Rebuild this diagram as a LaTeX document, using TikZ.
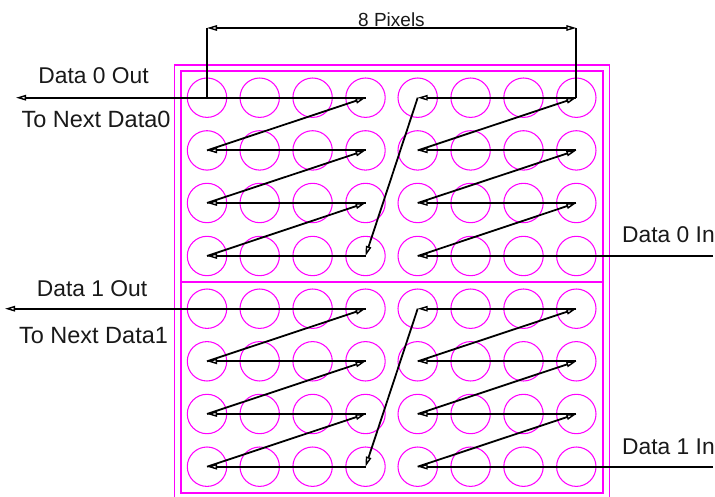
\documentclass[tikz,border=0pt]{standalone}
\usepackage{fontspec}
\setmainfont{Liberation Sans}
\usetikzlibrary{arrows.meta}
\definecolor{led}{RGB}{255,0,255}
\tikzset{
  x=1pt,y=-1pt,
  ledc/.style={circle,draw=led,line width=1.05pt,minimum size=39.4pt,inner sep=0pt,outer sep=0pt},
  frame/.style={draw=led,line width=1.1pt},
  wire/.style={draw=black,line width=1.8pt},
  flow/.style={wire,-{Triangle[open,length=10pt,width=5.5pt,line width=1.4pt]}},
  lbl/.style={font=\fontsize{22.8pt}{26pt}\selectfont,anchor=base,inner sep=0pt,text=black!90},
  lblwide/.style={lbl,font=\fontsize{23.5pt}{26pt}\selectfont}
}
\begin{document}
\begin{tikzpicture}
\useasboundingbox[fill=white] (0,0) rectangle (715,497);
% frames
\draw[frame] (174.5,499) -- (174.5,65) -- (609.5,65) -- (609.5,499);
\draw[frame] (181,71) rectangle (603,493);
\draw[frame] (181,282) -- (603,282);
% LEDs
\foreach \r/\y in {1/97.7,2/150.4,3/203,4/256,5/308.7,6/361.3,7/414,8/466.7}{
  \foreach \c/\x in {1/207,2/259.7,3/312.6,4/365.5,5/417.7,6/470.6,7/523.5,8/576.3}{
    \node[ledc] (p\r\c) at (\x,\y) {};
  }
}
% free ends
\coordinate (dim0) at (207,28);
\coordinate (dim1) at (576.3,28);
\coordinate (dimm) at (391,28);
\coordinate (out0) at (16,97.7);
\coordinate (out1) at (5,308.7);
\coordinate (in0) at (713,256);
\coordinate (in1) at (713,466.7);
% dimension
\draw[wire] (p11.center) -- (dim0);
\draw[wire] (p18.center) -- (dim1);
\draw[flow] (dimm) -- (dim0);
\draw[flow] (dimm) -- (dim1);
% data 0
\draw[flow] (in0) -- (p45.center);
\draw[flow] (p45.center) -- (p38.center);
\draw[flow] (p38.center) -- (p35.center);
\draw[flow] (p35.center) -- (p28.center);
\draw[flow] (p28.center) -- (p25.center);
\draw[flow] (p25.center) -- (p18.center);
\draw[flow] (p18.center) -- (p15.center);
\draw[flow] (p15.center) -- (p44.center);
\draw[flow] (p44.center) -- (p41.center);
\draw[flow] (p41.center) -- (p34.center);
\draw[flow] (p34.center) -- (p31.center);
\draw[flow] (p31.center) -- (p24.center);
\draw[flow] (p24.center) -- (p21.center);
\draw[flow] (p21.center) -- (p14.center);
\draw[flow] (p14.center) -- (out0);
% data 1
\draw[flow] (in1) -- (p85.center);
\draw[flow] (p85.center) -- (p78.center);
\draw[flow] (p78.center) -- (p75.center);
\draw[flow] (p75.center) -- (p68.center);
\draw[flow] (p68.center) -- (p65.center);
\draw[flow] (p65.center) -- (p58.center);
\draw[flow] (p58.center) -- (p55.center);
\draw[flow] (p55.center) -- (p84.center);
\draw[flow] (p84.center) -- (p81.center);
\draw[flow] (p81.center) -- (p74.center);
\draw[flow] (p74.center) -- (p71.center);
\draw[flow] (p71.center) -- (p64.center);
\draw[flow] (p64.center) -- (p61.center);
\draw[flow] (p61.center) -- (p54.center);
\draw[flow] (p54.center) -- (out1);
% labels
\node[lbl] (t8) at (391.5,26.5) {\fontsize{19pt}{22pt}\selectfont 8 Pixels};
\node[lbl] (td0o) at (93.5,83.5) {Data 0 Out};
\node[lblwide] (tn0) at (96,128) {To Next Data0};
\node[lbl] (td1o) at (92,296.5) {Data 1 Out};
\node[lblwide] (tn1) at (93.5,343) {To Next Data1};
\node[lbl] (td0i) at (668.5,242.5) {Data 0 In};
\node[lbl] (td1i) at (668.5,454.5) {Data 1 In};
\end{tikzpicture}
\end{document}
